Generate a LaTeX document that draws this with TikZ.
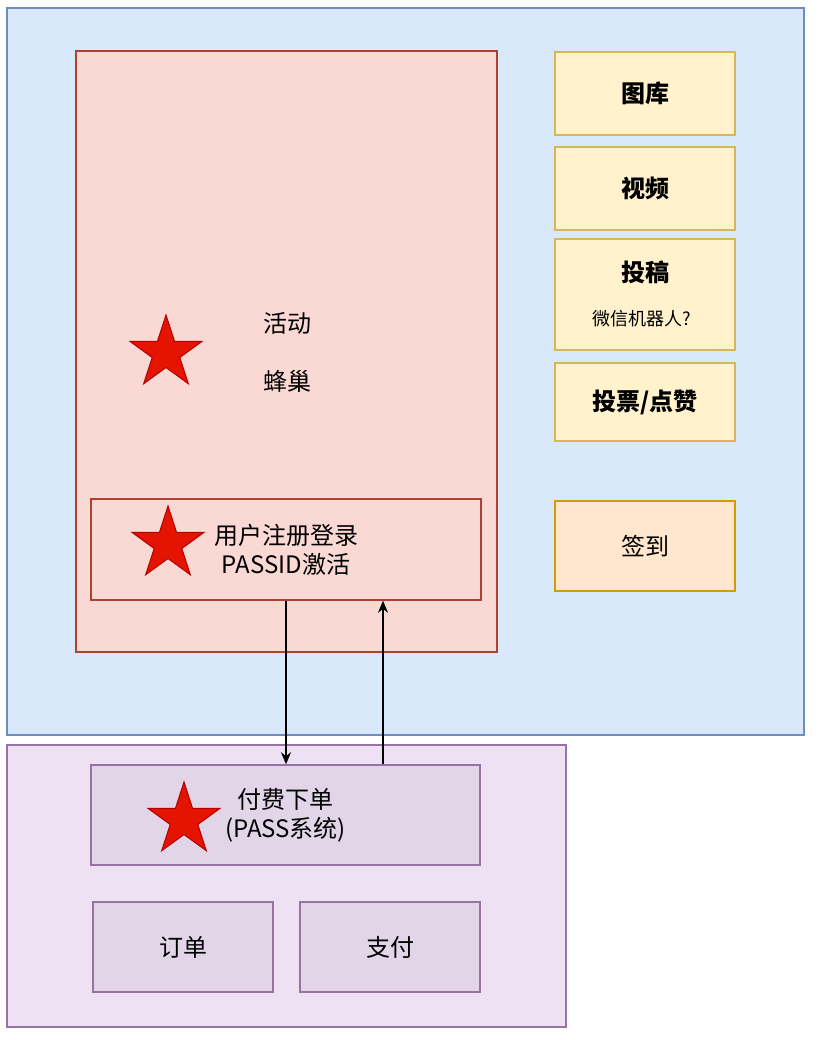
\documentclass[tikz,border=0pt]{standalone}
\usepackage{fontspec}
\setmainfont{Noto Sans CJK SC}
\usepackage{tikz}
\usetikzlibrary{calc, shapes.geometric, positioning, arrows.meta}
\definecolor{bluefill}{HTML}{DAE8FC}
\definecolor{blueline}{HTML}{6C8EBF}
\definecolor{redfill}{HTML}{FAD9D5}
\definecolor{redline}{HTML}{AE4132}
\definecolor{yellowfill}{HTML}{FFF2CC}
\definecolor{yellowline}{HTML}{D6B656}
\definecolor{orangefill}{HTML}{FFE6CC}
\definecolor{orangeline}{HTML}{D79B00}
\definecolor{purplefill}{HTML}{E1D5E7}
\definecolor{purplelight}{HTML}{EFE1F4}
\definecolor{purpleline}{HTML}{9673A6}
\definecolor{starfill}{HTML}{E51400}
\definecolor{starline}{HTML}{B20000}
\tikzset{
    boxnode/.style = {draw, rectangle, inner sep=0pt, line width=1.5pt, align=center,
      font=\fontsize{24}{29}\selectfont},
    bluenode/.style = {boxnode, fill=bluefill, draw=blueline},
    rednode/.style = {boxnode, fill=redfill, draw=redline},
    yellownode/.style = {boxnode, fill=yellowfill, draw=yellowline, minimum width=180pt},
    orangenode/.style = {boxnode, fill=orangefill, draw=orangeline, minimum width=180pt},
    purplenode/.style = {boxnode, fill=purplefill, draw=purpleline},
    textnode/.style = {draw=none, fill=none, inner sep=0pt, align=center,
      font=\fontsize{24}{29}\selectfont},
    smalltextnode/.style = {textnode, font=\fontsize{18}{21}\selectfont},
    starnode/.style = {star, star points=5, star point ratio=2.618, draw=starline,
      fill=starfill, line width=1pt, inner sep=0pt, minimum size=76pt},
    connect/.style = {black, line width=1.5pt, -{Stealth[length=12pt, width=10pt]}}
}
\begin{document}
\begin{tikzpicture}[x=1pt, y=-1pt]
\useasboundingbox (0,0) rectangle (818,1040);
% upper area
\node[bluenode, name=portal, minimum width=797pt, minimum height=727pt] at (405.5,371.5) {};
\node[rednode, name=activity, minimum width=421pt, minimum height=601pt] at (286.5,351.5) {};
\node[textnode, name=huodong] at (287,323) {活动};
\node[textnode, name=fengchao] at (287,381) {蜂巢};
\node[starnode, name=star1] at (166,353) {};
\node[rednode, name=login, minimum width=390pt, minimum height=101pt] at (286,549.5) {用户注册登录\\PASSID激活};
\node[starnode, name=star2] at (168,544) {};
% right column
\node[yellownode, name=gallery, minimum height=83pt] at (645,93.5) {\bfseries 图库};
\node[yellownode, name=video, minimum height=83pt] at (645,188.5) {\bfseries 视频};
\node[yellownode, name=submit, minimum height=111pt] at (645,294.5) {};
\node[textnode, name=submittitle] at (645,272) {\bfseries 投稿};
\node[smalltextnode, name=wechatbot] at (642,319) {微信机器人?};
\node[yellownode, name=vote, minimum height=78pt] at (645,402) {\bfseries 投票/点赞};
\node[orangenode, name=checkin, minimum height=90pt] at (645,546) {签到};
% lower area
\node[purplenode, fill=purplelight, name=passarea, minimum width=559pt, minimum height=282pt] at (286.5,886) {};
\node[purplenode, name=pay, minimum width=389pt, minimum height=100pt] at (285.5,815) {付费下单\\(PASS系统)};
\node[starnode, name=star3] at (184,820) {};
\node[purplenode, name=order, minimum width=180pt, minimum height=90pt] at (183,947) {订单};
\node[purplenode, name=payment, minimum width=180pt, minimum height=90pt] at (390,947) {支付};
% connectors
\draw[connect] (login.south) -- (login.south |- pay.north);
\draw[connect] ($(pay.north)+(97.5,0)$) -- ($(login.south)+(97,0)$);
\end{tikzpicture}
\end{document}
